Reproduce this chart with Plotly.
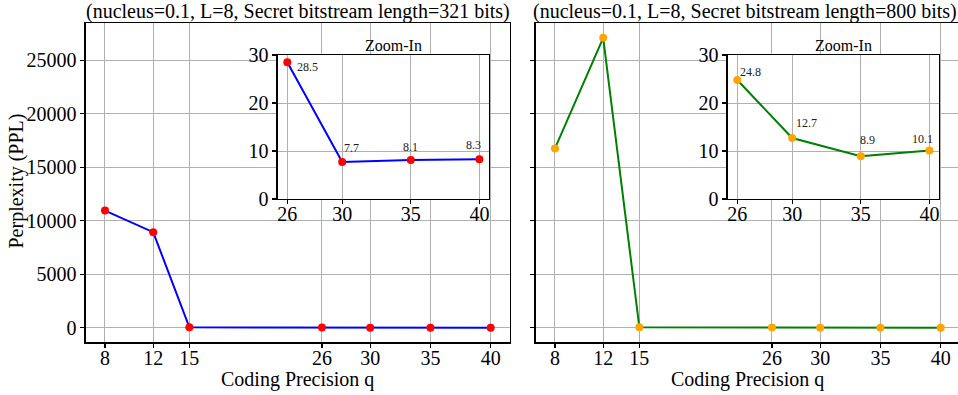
import plotly.graph_objects as go

# ---------------- data ----------------
q = [8, 12, 15, 26, 30, 35, 40]
ppl_321 = [10950, 8940, 45, 28.5, 7.7, 8.1, 8.3]
ppl_800 = [16760, 27100, 40, 24.8, 12.7, 8.9, 10.1]
zoom_q = [26, 30, 35, 40]
zoom_321 = [28.5, 7.7, 8.1, 8.3]
zoom_800 = [24.8, 12.7, 8.9, 10.1]
zoom_lbl_321 = ["28.5", "7.7", "8.1", "8.3"]
zoom_lbl_800 = ["24.8", "12.7", "8.9", "10.1"]
main_yticks = [0, 5000, 10000, 15000, 20000, 25000]
inset_yticks = [0, 10, 20, 30]
titles = ["(nucleus=0.1, L=8, Secret bitstream length=321 bits)",
          "(nucleus=0.1, L=8, Secret bitstream length=800 bits)"]
x_title = "Coding Precision q"
y_title = "Perplexity (PPL)"
inset_title = "Zoom-In"

# ---------------- layout helpers ----------------
W, H = 958, 395
FONT = "Liberation Serif"


def dx(a, b):
    return [a / W, min(b / W, 1.0)]


def dy(top, bottom):
    return [(H - bottom) / H, (H - top) / H]


def px(x):
    return x / W


def py(y):
    return (H - y) / H


qspan = max(q) - min(q)
xr = [min(q) - 0.05 * qspan, max(q) + 0.05 * qspan]
ymax = max(max(ppl_321), max(ppl_800))
yr = [-0.05 * ymax, 1.05 * ymax]
zspan = max(zoom_q) - min(zoom_q)
zr = [min(zoom_q) - 0.05 * zspan, max(zoom_q) + 0.05 * zspan]

L_left, L_right = 85.7, 510.0
R_left = 535.7
R_full_right = R_left + (L_right - L_left)
ppu = (L_right - L_left) / (xr[1] - xr[0])
R_right = min(R_full_right, W)
xr_right = [xr[0], xr[0] + (R_right - R_left) / ppu]
TOP, BOT = 23.3, 342.3

fig = go.Figure()

fig.add_trace(go.Scatter(x=q, y=ppl_321, mode="lines+markers", xaxis="x", yaxis="y",
                         line=dict(color="#0000ff", width=2),
                         marker=dict(color="#ff0000", size=8), cliponaxis=False,
                         showlegend=False))
fig.add_trace(go.Scatter(x=q, y=ppl_800, mode="lines+markers", xaxis="x2", yaxis="y2",
                         line=dict(color="#008000", width=2),
                         marker=dict(color="#ffa500", size=8), cliponaxis=False,
                         showlegend=False))
fig.add_trace(go.Scatter(x=zoom_q, y=zoom_321, mode="lines+markers", xaxis="x3", yaxis="y3",
                         line=dict(color="#0000ff", width=2),
                         marker=dict(color="#ff0000", size=8), cliponaxis=False,
                         showlegend=False))
fig.add_trace(go.Scatter(x=zoom_q, y=zoom_800, mode="lines+markers", xaxis="x4", yaxis="y4",
                         line=dict(color="#008000", width=2),
                         marker=dict(color="#ffa500", size=8), cliponaxis=False,
                         showlegend=False))

grid = "#b0b0b0"
tickfont = dict(family=FONT, size=20, color="black")
common = dict(showgrid=True, gridcolor=grid, gridwidth=1, zeroline=False,
              showline=True, linecolor="black", linewidth=1.3,
              ticks="outside", ticklen=4, tickwidth=1.2, tickcolor="black",
              tickfont=tickfont, automargin=False, tickformat="d")
common_x = dict(common, ticklabelstandoff=-7)

fig.update_layout(
    template="none",
    width=W, height=H, autosize=False,
    margin=dict(l=0, r=0, t=0, b=0, pad=0),
    paper_bgcolor="white", plot_bgcolor="white",
    font=dict(family=FONT, size=20, color="black"),
    xaxis=dict(domain=dx(L_left, L_right), range=xr, tickvals=q, mirror=True,
               anchor="y", **common_x),
    yaxis=dict(domain=dy(TOP, BOT), range=yr, tickvals=main_yticks, mirror=True,
               anchor="x", **common),
    xaxis2=dict(domain=dx(R_left, R_right), range=xr_right, tickvals=q, mirror=True,
                anchor="y2", **common_x),
    yaxis2=dict(domain=dy(TOP, BOT), range=yr, tickvals=main_yticks, mirror=False,
                showticklabels=False, anchor="x2", **common),
    xaxis3=dict(domain=dx(277.7, 489.0), range=zr, tickvals=zoom_q, mirror=True,
                anchor="y3", **common_x),
    yaxis3=dict(domain=dy(55, 199), range=[0, 30], tickvals=inset_yticks, mirror=True,
                anchor="x3", **common),
    xaxis4=dict(domain=dx(727.7, 939.0), range=zr, tickvals=zoom_q, mirror=True,
                anchor="y4", **common_x),
    yaxis4=dict(domain=dy(55, 199), range=[0, 30], tickvals=inset_yticks, mirror=True,
                anchor="x4", **common),
)

for xa, ya in (("x3", "y3"), ("x4", "y4")):
    fig.add_shape(type="rect", xref=f"{xa} domain", yref=f"{ya} domain",
                  x0=0, x1=1, y0=0, y1=1, fillcolor="white",
                  line=dict(width=0), layer="below")

ann = []
ann.append(dict(text=titles[0], x=px((L_left + L_right) / 2), y=py(11), xref="paper",
                yref="paper", showarrow=False, font=dict(family=FONT, size=20),
                xanchor="center", yanchor="middle"))
ann.append(dict(text=titles[1], x=px(745), y=py(11), xref="paper",
                yref="paper", showarrow=False, font=dict(family=FONT, size=20),
                xanchor="center", yanchor="middle"))
ann.append(dict(text=x_title, x=px((L_left + L_right) / 2), y=py(379), xref="paper",
                yref="paper", showarrow=False, font=dict(family=FONT, size=20),
                xanchor="center", yanchor="middle"))
ann.append(dict(text=x_title, x=px((R_left + R_full_right) / 2), y=py(379), xref="paper",
                yref="paper", showarrow=False, font=dict(family=FONT, size=20),
                xanchor="center", yanchor="middle"))
ann.append(dict(text=y_title, x=px(16), y=py(181.5), xref="paper", yref="paper",
                showarrow=False, textangle=-90, font=dict(family=FONT, size=20),
                xanchor="center", yanchor="middle"))
ann.append(dict(text=inset_title, x=px(393.7), y=py(45.5), xref="paper", yref="paper",
                showarrow=False, font=dict(family=FONT, size=16),
                xanchor="center", yanchor="middle"))
ann.append(dict(text=inset_title, x=px(843.7), y=py(45.5), xref="paper", yref="paper",
                showarrow=False, font=dict(family=FONT, size=16),
                xanchor="center", yanchor="middle"))

off_321 = [(20, -5), (9, 14), (0, 13), (-6, 14)]
off_800 = [(13, 8), (14, 15), (7, 16), (-7, 12)]
for xv, yv, t, (sx, sy) in zip(zoom_q, zoom_321, zoom_lbl_321, off_321):
    ann.append(dict(text=t, x=xv, y=yv, xref="x3", yref="y3", showarrow=False,
                    xshift=sx, yshift=sy, font=dict(family=FONT, size=12, color="#222"),
                    xanchor="center", yanchor="middle"))
for xv, yv, t, (sx, sy) in zip(zoom_q, zoom_800, zoom_lbl_800, off_800):
    ann.append(dict(text=t, x=xv, y=yv, xref="x4", yref="y4", showarrow=False,
                    xshift=sx, yshift=sy, font=dict(family=FONT, size=12, color="#222"),
                    xanchor="center", yanchor="middle"))

fig.update_layout(annotations=ann)
fig.write_html("out.html", config={"displayModeBar": False, "staticPlot": True},
               post_script="document.body.style.margin='0px';document.body.style.overflow='hidden';")
